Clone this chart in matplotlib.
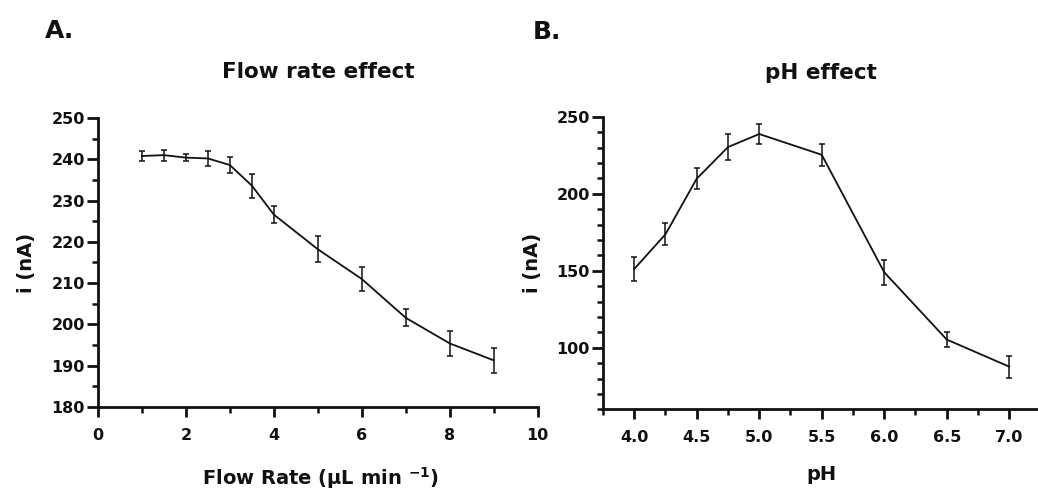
import numpy as np
import matplotlib
matplotlib.use("Agg")
import matplotlib.pyplot as plt
from matplotlib.ticker import MultipleLocator, FormatStrFormatter

# data
flow_rate = [1, 1.5, 2, 2.5, 3, 3.5, 4, 5, 6, 7, 8, 9]
flow_i = [240.8, 241.0, 240.4, 240.2, 238.6, 233.6, 226.6, 218.2, 211.0, 201.6, 195.4, 191.3]
flow_err = [1.1, 1.3, 0.9, 1.8, 1.9, 2.9, 2.0, 3.1, 2.8, 2.1, 3.0, 3.1]

ph = [4.0, 4.25, 4.5, 4.75, 5.0, 5.5, 6.0, 6.5, 7.0]
ph_i = [151.1, 173.7, 209.8, 230.3, 238.8, 225.3, 149.0, 105.3, 87.7]
ph_err = [7.5, 7.0, 7.0, 8.3, 6.5, 7.0, 8.0, 5.0, 7.2]

plt.rcParams['font.family'] = 'DejaVu Sans'
plt.rcParams['font.weight'] = 'bold'
plt.rcParams['mathtext.default'] = 'bf'

INK = '#111111'

fig = plt.figure(figsize=(10.38, 4.9), dpi=100)
ax1 = fig.add_axes([0.0944, 0.1694, 0.4236, 0.5898])
ax2 = fig.add_axes([0.5809, 0.1647, 0.4191, 0.5970])


def style_axes(ax):
    for side in ['top', 'right']:
        ax.spines[side].set_visible(False)
    for side in ['left', 'bottom']:
        ax.spines[side].set_linewidth(2.0)
        ax.spines[side].set_color(INK)
    ax.tick_params(axis='both', which='major', length=8, width=2.0, colors=INK,
                   labelsize=11.5)
    ax.tick_params(axis='both', which='minor', length=4.5, width=1.8, colors=INK)
    ax.tick_params(axis='y', which='major', pad=1.5)
    ax.tick_params(axis='x', which='major', pad=8, length=7)
    ax.tick_params(axis='x', which='minor', length=4)
    for lab in ax.get_xticklabels() + ax.get_yticklabels():
        lab.set_fontweight('bold')


# A. flow rate
ax1.errorbar(flow_rate, flow_i, yerr=flow_err, color=INK, lw=1.3,
             elinewidth=1.1, capsize=2.5, capthick=1.1, clip_on=False)
ax1.set_xlim(0, 10)
ax1.set_ylim(180, 250)
ax1.xaxis.set_major_locator(MultipleLocator(2))
ax1.xaxis.set_minor_locator(MultipleLocator(1))
ax1.yaxis.set_major_locator(MultipleLocator(10))
ax1.yaxis.set_minor_locator(MultipleLocator(5))
style_axes(ax1)
ax1.set_xlabel('Flow Rate (µL min $^{-1}$)', fontsize=14, fontweight='bold',
               color=INK, va='center')
ax1.set_ylabel('i (nA)', fontsize=14, fontweight='bold', color=INK, va='center')
ax1.xaxis.set_label_coords(0.505, -0.246)
ax1.yaxis.set_label_coords(-0.162, 0.5)
ax1.set_title('Flow rate effect', fontsize=15.5, fontweight='bold', color=INK, pad=29)

# B. pH
ax2.errorbar(ph, ph_i, yerr=ph_err, color=INK, lw=1.3,
             elinewidth=1.1, capsize=2.5, capthick=1.1, clip_on=False)
ax2.set_xlim(3.75, 7.23)
ax2.set_ylim(60, 250)
ax2.xaxis.set_major_locator(MultipleLocator(0.5))
ax2.xaxis.set_minor_locator(MultipleLocator(0.25))
ax2.xaxis.set_major_formatter(FormatStrFormatter('%.1f'))
ax2.yaxis.set_major_locator(MultipleLocator(50))
ax2.yaxis.set_minor_locator(MultipleLocator(10))
ax2.set_xticks([4.0, 4.5, 5.0, 5.5, 6.0, 6.5, 7.0])
style_axes(ax2)
ax2.set_xlabel('pH', fontsize=14, fontweight='bold', color=INK, va='center')
ax2.set_ylabel('i (nA)', fontsize=14, fontweight='bold', color=INK, va='center')
ax2.xaxis.set_label_coords(0.503, -0.224)
ax2.yaxis.set_label_coords(-0.163, 0.5)
ax2.set_title('pH effect', fontsize=15.5, fontweight='bold', color=INK, pad=27)

fig.text(0.0578, 0.937, 'A.', fontsize=18, fontweight='bold', color=INK,
         ha='center', va='center')
fig.text(0.527, 0.935, 'B.', fontsize=18, fontweight='bold', color=INK,
         ha='center', va='center')

fig.savefig('out.png', dpi=100)
